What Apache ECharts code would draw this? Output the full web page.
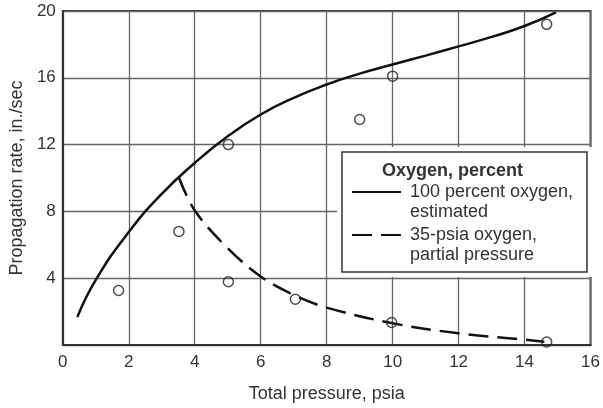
<!DOCTYPE html>
<html>
<head>
<meta charset="utf-8">
<script src="https://cdn.jsdelivr.net/npm/echarts@6/dist/echarts.min.js"></script>
<style>
html,body{margin:0;padding:0;background:#fff;}
#chart{width:603px;height:408px;}
</style>
</head>
<body>
<div id="chart"></div>
<script>
// Data
var xTicks = [0, 2, 4, 6, 8, 10, 12, 14, 16];
var yTicks = [4, 8, 12, 16, 20];

var solidName = '100 percent oxygen,\nestimated';
var solidX = [0.44, 1.0, 2.0, 3.0, 4.0, 5.0, 6.0, 7.0, 8.0, 9.0, 10.0, 11.0, 12.0, 13.0, 14.0, 14.95];
var solidY = [1.67, 3.9, 6.76, 9.05, 10.9, 12.5, 13.8, 14.8, 15.6, 16.25, 16.8, 17.33, 17.88, 18.45, 19.1, 19.92];

var dashedName = '35-psia oxygen,\npartial pressure';
var dashedX = [3.52, 4.0, 5.0, 6.0, 7.0, 8.0, 10.0, 12.0, 14.0, 14.6];
var dashedY = [10.03, 8.05, 5.8, 4.1, 3.0, 2.24, 1.3, 0.7, 0.32, 0.2];

var pointX = [1.69, 3.52, 5.02, 5.02, 7.05, 9.0, 10.0, 9.97, 14.67, 14.67];
var pointY = [3.26, 6.8, 12.0, 3.79, 2.74, 13.5, 16.1, 1.35, 19.2, 0.18];

var legendTitle = 'Oxygen, percent';
var xName = 'Total pressure, psia';
var yName = 'Propagation rate, in./sec';

function zip(xs, ys) { return xs.map(function (x, i) { return [x, ys[i]]; }); }

var FONT = '"Liberation Sans", Arial, Helvetica, sans-serif';
var chart = echarts.init(document.getElementById('chart'), null, {renderer: 'canvas'});

var legendText = {
  fontFamily: FONT, fontSize: 18, lineHeight: 20, color: '#333',
  padding: [0, 0, 0, 4]
};
function legendFmt(name) { return '\u00a0\n' + name; }

chart.setOption({
  animation: false,
  backgroundColor: '#fff',
  grid: {left: 62, right: 5, top: 11, bottom: 60, show: true,
         borderColor: '#3a3a3a', borderWidth: 2, backgroundColor: 'transparent'},
  title: {
    text: legendTitle, left: 382, top: 162, padding: 0, z: 10,
    textStyle: {fontFamily: FONT, fontSize: 18, fontWeight: 'bold', color: '#333'}
  },
  legend: [
    {data: [solidName], left: 351, top: 162, padding: 0, orient: 'vertical',
     itemWidth: 49, itemHeight: 12, selectedMode: false, z: 10, formatter: legendFmt,
     itemStyle: {opacity: 0}, textStyle: legendText},
    {data: [dashedName], left: 351, top: 205, padding: 0, orient: 'vertical',
     itemWidth: 49, itemHeight: 12, selectedMode: false, z: 10, formatter: legendFmt,
     itemStyle: {opacity: 0}, textStyle: legendText}
  ],
  graphic: [
    {type: 'rect', z: 5, shape: {x: 337, y: 147, width: 255, height: 130},
     style: {fill: '#fff', stroke: null}},
    {type: 'rect', z: 6, shape: {x: 342, y: 152, width: 245, height: 120},
     style: {fill: '#fff', stroke: '#333', lineWidth: 1.5}}
  ],
  xAxis: {
    type: 'value', min: xTicks[0], max: xTicks[xTicks.length - 1], interval: 2,
    name: xName, nameLocation: 'middle', nameGap: 40,
    nameTextStyle: {fontFamily: FONT, fontSize: 18, color: '#333'},
    axisLine: {show: true, onZero: false, lineStyle: {color: '#333', width: 2}},
    axisTick: {show: false},
    axisLabel: {fontFamily: FONT, fontSize: 17, color: '#333', margin: 9},
    splitLine: {show: true, lineStyle: {color: '#666', width: 1.3}}
  },
  yAxis: {
    type: 'value', min: 0, max: yTicks[yTicks.length - 1], interval: 4,
    name: yName, nameLocation: 'middle', nameGap: 28,
    nameTextStyle: {fontFamily: FONT, fontSize: 18, color: '#333'},
    axisLine: {show: true, lineStyle: {color: '#333', width: 2}},
    axisTick: {show: false},
    axisLabel: {fontFamily: FONT, fontSize: 17, color: '#333', margin: 7,
      formatter: function (v) { return yTicks.indexOf(v) >= 0 ? String(v) : ''; }},
    splitLine: {show: true, lineStyle: {color: '#666', width: 1.3}}
  },
  series: [
    {name: solidName, type: 'line', data: zip(solidX, solidY), smooth: 0.5,
     symbol: 'none', lineStyle: {color: '#111', width: 2.5}, itemStyle: {color: '#111'}, z: 3},
    {name: dashedName, type: 'line', data: zip(dashedX, dashedY), smooth: 0.35,
     symbol: 'none', lineStyle: {color: '#111', width: 2.5, type: [20, 9]}, itemStyle: {color: '#111'}, z: 3},
    {name: 'data', type: 'scatter', data: zip(pointX, pointY), symbol: 'circle', symbolSize: 10,
     itemStyle: {color: 'transparent', borderColor: '#222', borderWidth: 1.5}, z: 4}
  ]
});
</script>
</body>
</html>
